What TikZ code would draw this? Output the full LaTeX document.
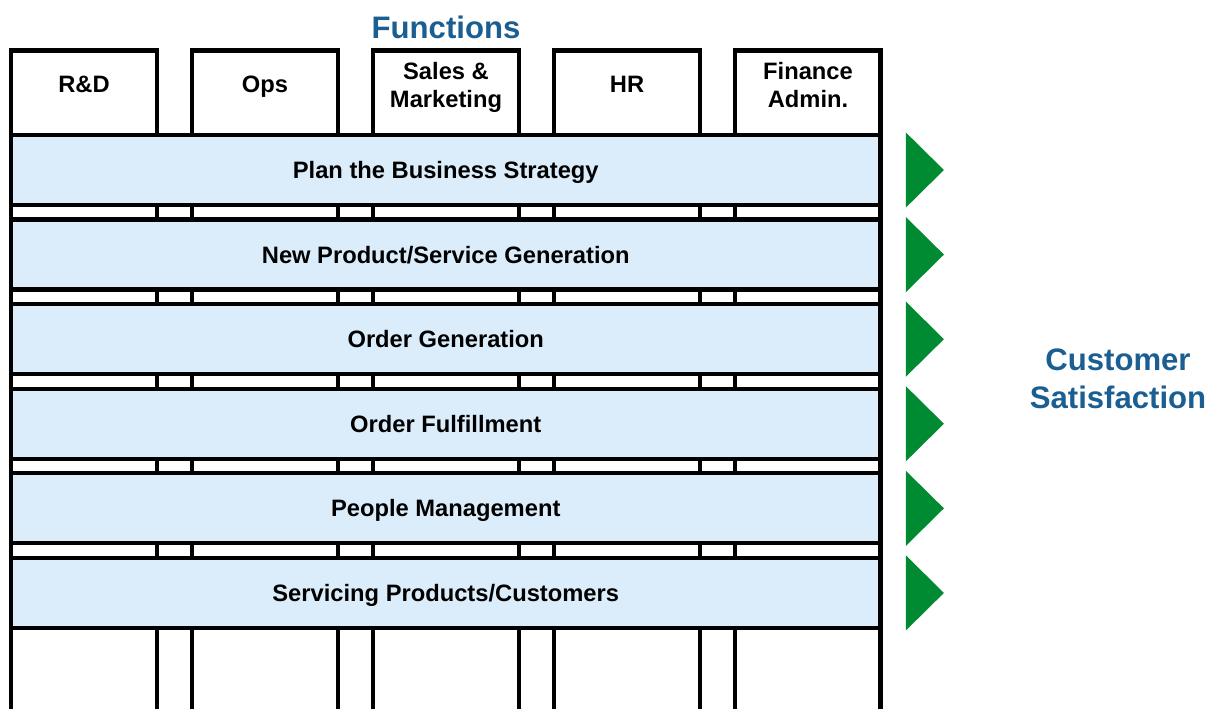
\documentclass[tikz,border=0pt]{standalone}
\usepackage{fontspec}
\setmainfont{Liberation Sans}
\usetikzlibrary{positioning}

\definecolor{titleblue}{RGB}{27,94,145}
\definecolor{procfill}{RGB}{219,237,250}
\definecolor{goalgreen}{RGB}{0,138,50}

\begin{document}
\begin{tikzpicture}[x=0.02cm, y=-0.02cm, node distance=3.62cm,
    func/.style={rectangle, draw, line width=2.7pt, fill=white, minimum width=2.92cm, minimum height=13.6cm, inner sep=0pt, outer sep=0pt},
    proc/.style={rectangle, draw, line width=2.4pt, fill=procfill, minimum width=17.39cm, minimum height=1.4cm, outer sep=0pt, text height=9.7pt, text depth=0pt, font=\fontsize{13.5}{16}\selectfont\bfseries},
    head/.style={align=center, font=\fontsize{13.5}{15.9}\selectfont\bfseries},
    headone/.style={head, text height=9.7pt, text depth=0pt},
    title/.style={text=titleblue, align=center, font=\fontsize{17.7}{21.5}\selectfont\bfseries},
    goal/.style={fill=goalgreen}]

  \useasboundingbox (0,0) rectangle (1219,709);

  % function columns
  \node[func] (rnd) at (84,390.5) {};
  \node[func, right of=rnd] (ops) {};
  \node[func, right of=ops] (sales) {};
  \node[func, right of=sales] (hr) {};
  \node[func, right of=hr] (fin) {};

  \node[headone] (rndhead) at (84,83.5) {R\&D};
  \node[headone] (opshead) at (265,83.5) {Ops};
  \node[head] (saleshead) at (446,87) {Sales \&\\Marketing};
  \node[headone] (hrhead) at (627,83.5) {HR};
  \node[head] (finhead) at (808,85) {Finance\\Admin.};

  % processes across the functions
  \node[proc] (plan) at (445.75,170) {Plan the Business Strategy};
  \node[proc, node distance=1.692cm, below of=plan] (newprod) {New Product/Service Generation};
  \node[proc, node distance=1.692cm, below of=newprod] (ordgen) {Order Generation};
  \node[proc, node distance=1.692cm, below of=ordgen] (ordful) {Order Fulfillment};
  \node[proc, node distance=1.692cm, below of=ordful] (people) {People Management};
  \node[proc, node distance=1.692cm, below of=people] (service) {Servicing Products/Customers};

  % green pointers
  \fill[goal] ([xshift=0.51cm, yshift=0.75cm]plan.east) -- ++(0,75) -- ++(38,-37.5) -- cycle;
  \fill[goal] ([xshift=0.51cm, yshift=0.75cm]newprod.east) -- ++(0,75) -- ++(38,-37.5) -- cycle;
  \fill[goal] ([xshift=0.51cm, yshift=0.75cm]ordgen.east) -- ++(0,75) -- ++(38,-37.5) -- cycle;
  \fill[goal] ([xshift=0.51cm, yshift=0.75cm]ordful.east) -- ++(0,75) -- ++(38,-37.5) -- cycle;
  \fill[goal] ([xshift=0.51cm, yshift=0.75cm]people.east) -- ++(0,75) -- ++(38,-37.5) -- cycle;
  \fill[goal] ([xshift=0.51cm, yshift=0.75cm]service.east) -- ++(0,75) -- ++(38,-37.5) -- cycle;

  \node[title] (functitle) at (446,27) {Functions};
  \node[title] (custsat) at (1118,379) {Customer\\Satisfaction};

\end{tikzpicture}
\end{document}
